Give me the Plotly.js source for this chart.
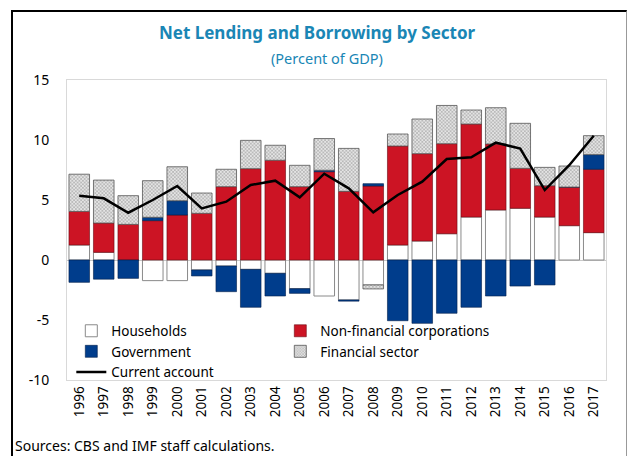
<!DOCTYPE html>
<html>
<head>
<meta charset="utf-8">
<script src="https://cdn.plot.ly/plotly-3.0.1.min.js"></script>
<style>
html,body{margin:0;padding:0;background:#fff;}
#wrap{position:relative;width:627px;height:456px;}
#chart{position:absolute;left:0;top:0;width:627px;height:456px;}
#frame{position:absolute;left:11px;top:10px;width:613px;height:460px;border-left:2px solid #000;border-top:2px solid #000;border-right:1px solid #999;pointer-events:none;}
</style>
</head>
<body>
<div id="wrap"><div id="chart"></div><div id="frame"></div></div>
<script>
const years = ['1996','1997','1998','1999','2000','2001','2002','2003','2004','2005','2006','2007','2008','2009','2010','2011','2012','2013','2014','2015','2016','2017'];
const households = [1.25,0.64,0,-1.72,-1.72,-0.83,-0.5,-0.78,-1.11,-2.39,-3.0,-3.33,-2.08,1.25,1.58,2.19,3.58,4.17,4.31,3.58,2.86,2.28];
const nonFinancial = [2.8,2.44,2.97,3.28,3.75,3.89,6.11,7.61,8.31,6.11,7.36,5.72,6.17,8.25,7.28,7.5,7.75,5.5,3.33,2.61,3.22,5.28];
const government = [-1.86,-1.6,-1.53,0.28,1.19,-0.5,-2.14,-3.16,-1.89,-0.39,0.12,-0.1,0.19,-5.06,-5.28,-4.44,-3.94,-3.0,-2.17,-2.08,0,1.22];
const financial = [3.1,3.58,2.39,3.05,2.83,1.69,1.45,2.36,1.25,1.78,2.64,3.58,-0.33,1.0,2.89,3.19,1.17,3.02,3.75,1.53,1.75,1.58];
const currentAccount = [5.36,5.14,3.94,5.0,6.17,4.3,4.86,6.25,6.61,5.22,7.19,5.97,3.97,5.42,6.53,8.42,8.56,9.78,9.28,5.83,7.9,10.36];
const yTicks = [-10,-5,0,5,10,15];

const FONT = 'Noto Sans, Open Sans, sans-serif';
const traces = [
  {type:'bar', name:'Households', x:years, y:households,
   marker:{color:'#ffffff', line:{color:'#8a8a8a', width:1}}},
  {type:'bar', name:'Non-financial corporations', x:years, y:nonFinancial,
   marker:{color:'#cc1424', line:{color:'#6a0a12', width:0.6}}},
  {type:'bar', name:'Government', x:years, y:government,
   marker:{color:'#003d8c', line:{color:'#001f4a', width:0.6}}},
  {type:'bar', name:'Financial sector', x:years, y:financial,
   marker:{color:'#d9d9d9', line:{color:'#555', width:0.8},
     pattern:{shape:'x', size:2.5, solidity:0.3, fgcolor:'#8a8a8a', bgcolor:'#e4e4e4'}}},
  {type:'scatter', mode:'lines', name:'Current account', x:years, y:currentAccount,
   line:{color:'#000', width:2.5}}
];

const layout = {
  width:627, height:456,
  margin:{l:67, r:21, t:80, b:76},
  paper_bgcolor:'#fff', plot_bgcolor:'#fff',
  barmode:'relative', bargap:0.16,
  font:{family:FONT, size:13, color:'#000'},
  showlegend:true,
  legend:{orientation:'h', x:0.008, y:0.215, xanchor:'left', yanchor:'top',
    entrywidth:164, entrywidthmode:'pixels', traceorder:'normal',
    font:{family:FONT, size:13.5, color:'#000'}, bgcolor:'rgba(0,0,0,0)',
    itemwidth:30, tracegroupgap:0},
  xaxis:{type:'category', tickangle:-90, tickfont:{family:FONT, size:13.5},
    showline:true, linecolor:'#d9d9d9', mirror:true, ticks:'', showgrid:false,
    automargin:false},
  yaxis:{range:[-10,15], tickvals:yTicks, ticktext:yTicks.map(String),
    tickfont:{family:FONT, size:14}, showline:true, linecolor:'#d9d9d9', mirror:true,
    showgrid:false, zeroline:true, zerolinecolor:'#c8c8c8', zerolinewidth:1,
    ticks:'', ticklabelstandoff:14, automargin:false},
  title:{text:'<b>Net Lending and Borrowing by Sector</b>', x:0.464, xref:'paper', xanchor:'center', y:0.927, yanchor:'middle',
    font:{family:FONT, size:17, color:'#1a86b5'}},
  annotations:[
    {text:'(Percent of GDP)', xref:'paper', yref:'paper', x:0.482, y:1.075, xanchor:'center', yanchor:'middle', showarrow:false,
     font:{family:FONT, size:14.5, color:'#1a86b5'}},
    {text:'Sources: CBS and IMF staff calculations.', xref:'paper', yref:'paper', x:-0.1, y:-0.217, xanchor:'left', yanchor:'middle', showarrow:false,
     font:{family:FONT, size:14, color:'#000'}}
  ]
};

Plotly.newPlot('chart', traces, layout, {staticPlot:true, displayModeBar:false});
</script>
</body>
</html>
